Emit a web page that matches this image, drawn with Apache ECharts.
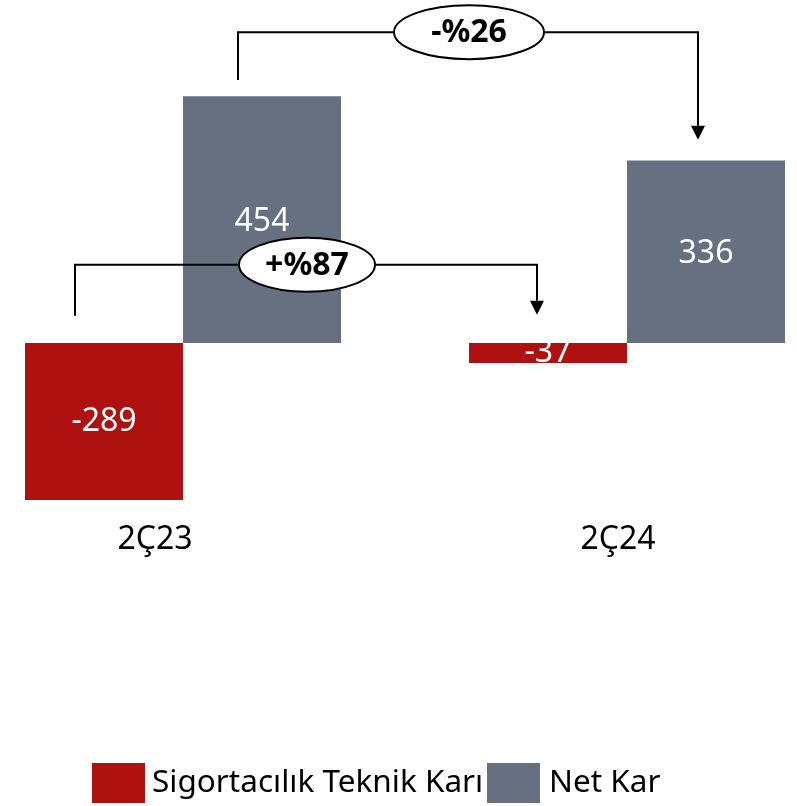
<!DOCTYPE html>
<html>
<head>
<meta charset="utf-8">
<script src="https://cdn.jsdelivr.net/npm/echarts@6/dist/echarts.min.js"></script>
<style>html,body{margin:0;padding:0;background:#fff;}#c{width:797px;height:806px;}</style>
</head>
<body>
<div id="c"></div>
<script>
const categories = ['2Ç23', '2Ç24'];
const teknikKar = [-289, -37];
const netKar = [454, 336];
const seriesNames = ['Sigortacılık Teknik Karı', 'Net Kar'];
// brackets: [fromCategory, toCategory, startValue, levelValue, endValue, seriesSide(-1 red / +1 gray)]
const bracketTeknik = [0, 1, 50, 144, 52, -1];
const bracketNet = [0, 1, 484, 572, 374, 1];
const changeLabels = ['+%87', '-%26'];

const RED = '#AF1010';
const GRAY = '#667081';
const FONT = 'Noto Sans';
const BAR_W = 158;
const RX = [68, 75];

const chart = echarts.init(document.getElementById('c'), null, {renderer: 'canvas'});
const labelShift = [56, 18];
chart.setOption({
  animation: false,
  grid: {left: -39, width: 888, top: 17, height: 489, outerBoundsMode: 'none', containLabel: false},
  xAxis: {
    type: 'category',
    data: categories,
    axisLine: {show: false, onZero: false},
    axisTick: {show: false},
    splitLine: {show: false},
    axisLabel: {
      margin: 18,
      formatter: (v, i) => '{s' + i + '|' + v + '}',
      rich: {
        s0: {fontFamily: FONT, fontSize: 32, color: '#000', padding: [0, labelShift[0], 0, 0]},
        s1: {fontFamily: FONT, fontSize: 32, color: '#000', padding: [0, labelShift[1], 0, 0]}
      }
    }
  },
  yAxis: {type: 'value', min: -300, max: 600, show: false, splitLine: {show: false}},
  legend: [
    {data: [seriesNames[0]], left: 92, top: 763, padding: 0, icon: 'rect', itemWidth: 53, itemHeight: 40, itemGap: 0,
     textStyle: {fontFamily: FONT, fontSize: 31.5, color: '#000', padding: [0, 0, 0, 2]}},
    {data: [seriesNames[1]], left: 487, top: 763, padding: 0, icon: 'rect', itemWidth: 53, itemHeight: 40, itemGap: 0,
     textStyle: {fontFamily: FONT, fontSize: 31.5, color: '#000', padding: [0, 0, 0, 4]}}
  ],
  series: [
    {
      name: seriesNames[0], type: 'bar', data: teknikKar, barWidth: BAR_W, barGap: '0%',
      itemStyle: {color: RED},
      label: {show: true, position: 'inside', color: '#fff', fontFamily: FONT, fontSize: 32}
    },
    {
      name: seriesNames[1], type: 'bar', data: netKar, barWidth: BAR_W, barGap: '0%',
      itemStyle: {color: GRAY},
      label: {show: true, position: 'inside', color: '#fff', fontFamily: FONT, fontSize: 32, offset: [0, 2]}
    },
    {
      type: 'custom', z: 10, silent: true,
      data: [bracketTeknik, bracketNet],
      renderItem: function (params, api) {
        const side = api.value(5);
        const p0 = api.coord([api.value(0), api.value(2)]);
        const pL = api.coord([api.value(0), api.value(3)]);
        const p1 = api.coord([api.value(1), api.value(4)]);
        const x0 = p0[0] + side * BAR_W / 2 - 26.5 + side * 2.5;
        const x1 = p1[0] + side * BAR_W / 2 - 9.5 + side * 1.5;
        const y0 = p0[1], yL = pL[1], yE = p1[1];
        const ah = 14, aw = 7;
        const cx = (x0 + x1) / 2 + 1;
        return {
          type: 'group',
          children: [
            {type: 'polyline', shape: {points: [[x0, y0], [x0, yL], [x1, yL], [x1, yE - ah]]},
             style: {stroke: '#000', lineWidth: 2, fill: null}},
            {type: 'polygon', shape: {points: [[x1 - aw, yE - ah], [x1 + aw, yE - ah], [x1, yE]]},
             style: {fill: '#000'}},
            {type: 'ellipse', shape: {cx: cx, cy: yL, rx: RX[params.dataIndex], ry: 27},
             style: {fill: '#fff', stroke: '#000', lineWidth: 2}},
            {type: 'text', style: {text: changeLabels[params.dataIndex], x: cx, y: yL + 1, align: 'center', verticalAlign: 'middle',
             fontFamily: FONT, fontSize: 32, fontWeight: 'bold', fill: '#000'}}
          ]
        };
      }
    }
  ]
});
</script>
</body>
</html>
